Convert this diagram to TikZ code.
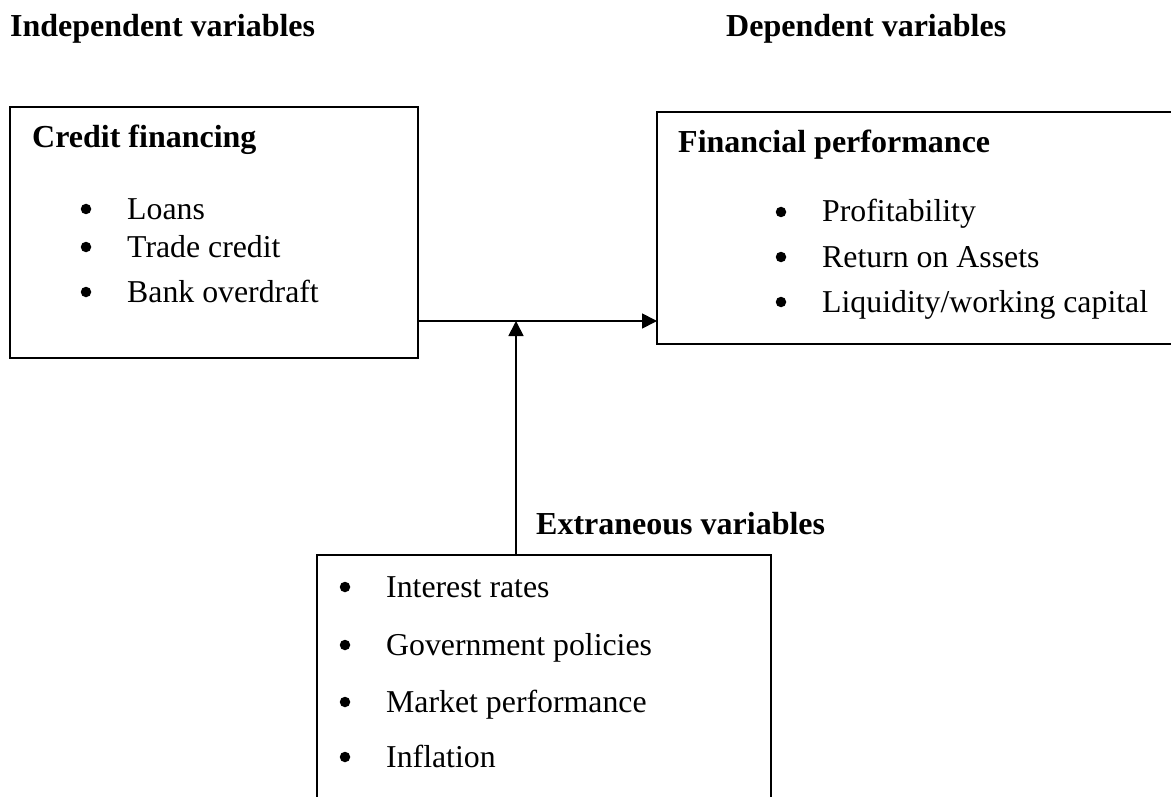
\documentclass[tikz,border=0pt]{standalone}
\usepackage{fontspec}
\setmainfont{Liberation Serif}
\usetikzlibrary{arrows.meta}
\begin{document}
\begin{tikzpicture}[x=1pt,y=-1pt,
  box/.style={draw,line width=1.8pt,inner sep=0pt,outer sep=0pt,anchor=north west},
  txt/.style={anchor=base west,inner sep=0pt,font=\fontsize{31.8}{38}\selectfont},
  head/.style={txt,font=\fontsize{32}{38}\selectfont\bfseries},
  bul/.style={circle,fill=black,inner sep=0pt,minimum size=10.5pt},
  conn/.style={line width=1.8pt,-{Triangle[length=15pt,width=15pt]}}]
\clip (0,0) rectangle (1171,797);
\fill[white] (0,0) rectangle (1171,797);
% headings
\node[head] (indep) at (10,37) {Independent variables};
\node[head] (dep) at (726,37) {Dependent variables};
% boxes
\node[box,minimum width=408pt,minimum height=251pt] (cf) at (10,107) {};
\node[box,minimum width=540pt,minimum height=232pt] (fp) at (657,112) {};
\node[box,minimum width=454pt,minimum height=270pt] (ev) at (317,555) {};
% left box text
\node[head] (cft) at (32,148) {Credit financing};
\node[bul] (b1) at (86,209) {};
\node[txt] (t1) at (127,219) {Loans};
\node[bul] (b2) at (86,247) {};
\node[txt] (t2) at (127,257) {Trade credit};
\node[bul] (b3) at (86,292) {};
\node[txt] (t3) at (127,302) {Bank overdraft};
% right box text
\node[head] (fpt) at (678,153) {Financial performance};
\node[bul] (b4) at (781,212) {};
\node[txt] (t4) at (822,222) {Profitability};
\node[bul] (b5) at (781,257) {};
\node[txt] (t5) at (822,267) {Return on Assets};
\node[bul] (b6) at (781,302) {};
\node[txt] (t6) at (822,312) {Liquidity/working capital};
% extraneous
\node[head] (evt) at (536,534) {Extraneous variables};
\node[bul] (b7) at (345,587) {};
\node[txt] (t7) at (386,597) {Interest rates};
\node[bul] (b8) at (345,645) {};
\node[txt] (t8) at (386,655) {Government policies};
\node[bul] (b9) at (345,702) {};
\node[txt] (t9) at (386,712) {Market performance};
\node[bul] (b10) at (345,757) {};
\node[txt] (t10) at (386,767) {Inflation};
% connectors
\coordinate (j) at (516,321);
\draw[conn] (cf.east |- j) -- (fp.west |- j);
\draw[conn] (ev.north -| j) -- (j);
\end{tikzpicture}
\end{document}
